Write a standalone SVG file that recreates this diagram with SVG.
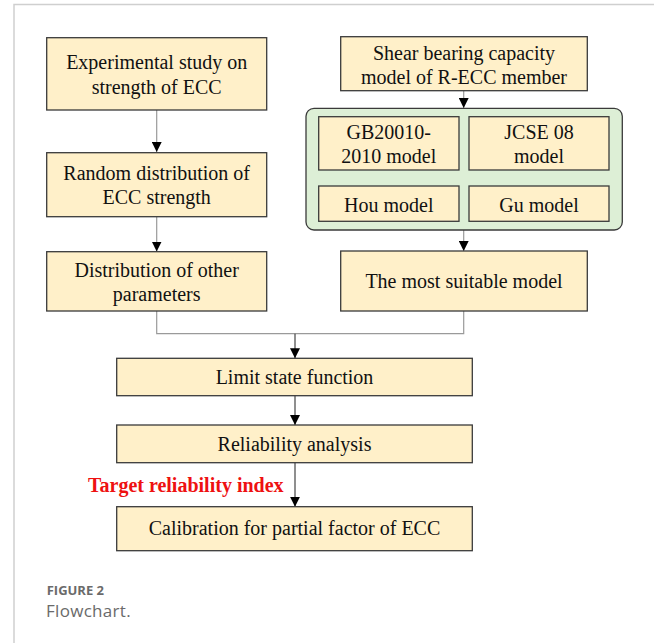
<svg xmlns="http://www.w3.org/2000/svg" width="654" height="643" viewBox="0 0 654 643">
<defs>
<style>
.box{fill:#FFF0C9;stroke:#3a3a3a;stroke-width:1.3}
.grp{fill:#DDEFD6;stroke:#3a3a3a;stroke-width:1.3}
.t{font-family:"Liberation Serif","Times New Roman",serif;font-size:20px;fill:#111;text-anchor:middle}
.red{font-family:"Liberation Serif","Times New Roman",serif;font-size:20px;font-weight:bold;fill:#ee1111}
.cg{stroke:#9a9a9a;stroke-width:1.2;fill:none}
.ck{stroke:#333;stroke-width:1.1;fill:none}
.frame{stroke:#cfcfcf;stroke-width:1.5;fill:none}
.cap1{font-family:"Open Sans","Noto Sans",sans-serif;font-size:13px;font-weight:bold;fill:#6a6a6a}
.cap2{font-family:"Open Sans","Noto Sans",sans-serif;font-size:17px;fill:#6a6a6a;letter-spacing:0.3px}
</style>
<marker id="ah" markerWidth="10" markerHeight="10" viewBox="0 0 10 10" refX="10" refY="5" orient="auto" markerUnits="userSpaceOnUse">
<path d="M0,0 L10,5 L0,10 Z" fill="#000"/>
</marker>
</defs>
<rect width="654" height="643" fill="#fff"/>
<path class="frame" d="M14,643 V4.5 H654"/>

<g id="connectors">
<line class="cg" x1="156.7" y1="110" x2="156.7" y2="152" marker-end="url(#ah)"/>
<line class="cg" x1="156.7" y1="216.7" x2="156.7" y2="251.5" marker-end="url(#ah)"/>
<line class="cg" x1="463.7" y1="90.7" x2="463.7" y2="108" marker-end="url(#ah)"/>
<line class="cg" x1="463.7" y1="230" x2="463.7" y2="251" marker-end="url(#ah)"/>
<path class="cg" d="M156.7,311 V333.7 H463.7 V311"/>
<line class="ck" x1="295" y1="333.7" x2="295" y2="358.3" marker-end="url(#ah)"/>
<line class="ck" x1="295" y1="395.7" x2="295" y2="425" marker-end="url(#ah)"/>
<line class="ck" x1="295" y1="462.7" x2="295" y2="506.7" marker-end="url(#ah)"/>
</g>

<g id="n1"><rect class="box" x="46.7" y="37.7" width="220" height="72.3"/>
<text class="t" x="156.7" y="69">Experimental study on</text><text class="t" x="156.7" y="93.5">strength of ECC</text></g>

<g id="n2"><rect class="box" x="46.7" y="152.7" width="220" height="64"/>
<text class="t" x="156.7" y="179.5">Random distribution of</text><text class="t" x="156.7" y="204">ECC strength</text></g>

<g id="n3"><rect class="box" x="46.7" y="251.7" width="220" height="59.3"/>
<text class="t" x="156.7" y="276.7">Distribution of other</text><text class="t" x="156.7" y="301">parameters</text></g>

<g id="n4"><rect class="box" x="340.7" y="36.7" width="246.6" height="54"/>
<text class="t" x="464" y="60">Shear bearing capacity</text><text class="t" x="464" y="83.5">model of R-ECC member</text></g>

<g id="models">
<rect class="grp" x="306" y="108.3" width="316.3" height="121.7" rx="8" ry="8"/>
<g id="m1"><rect class="box" x="318.7" y="116.7" width="140.3" height="53.3"/>
<text class="t" x="388.8" y="138.5">GB20010-</text><text class="t" x="388.8" y="162.7">2010 model</text></g>
<g id="m2"><rect class="box" x="469" y="116.7" width="140" height="53.3"/>
<text class="t" x="539" y="138.5">JCSE 08</text><text class="t" x="539" y="162.7">model</text></g>
<g id="m3"><rect class="box" x="318.7" y="186" width="140.3" height="35.3"/>
<text class="t" x="388.8" y="211.7">Hou model</text></g>
<g id="m4"><rect class="box" x="469" y="186" width="140" height="35.3"/>
<text class="t" x="539" y="211.7">Gu model</text></g>
</g>

<g id="n5"><rect class="box" x="340.7" y="251" width="246.6" height="60"/>
<text class="t" x="464" y="288.3">The most suitable model</text></g>

<g id="n6"><rect class="box" x="116.7" y="358.3" width="355.6" height="37.4"/>
<text class="t" x="294.5" y="384.3">Limit state function</text></g>

<g id="n7"><rect class="box" x="116.7" y="425" width="355.6" height="37.7"/>
<text class="t" x="294.5" y="451">Reliability analysis</text></g>

<text class="red" x="88" y="491.7">Target reliability index</text>

<g id="n8"><rect class="box" x="116.7" y="506.7" width="355.6" height="44"/>
<text class="t" x="294.5" y="535">Calibration for partial factor of ECC</text></g>

<text class="cap1" x="46.7" y="594.5">FIGURE 2</text>
<text class="cap2" x="46" y="616.5">Flowchart.</text>
</svg>
